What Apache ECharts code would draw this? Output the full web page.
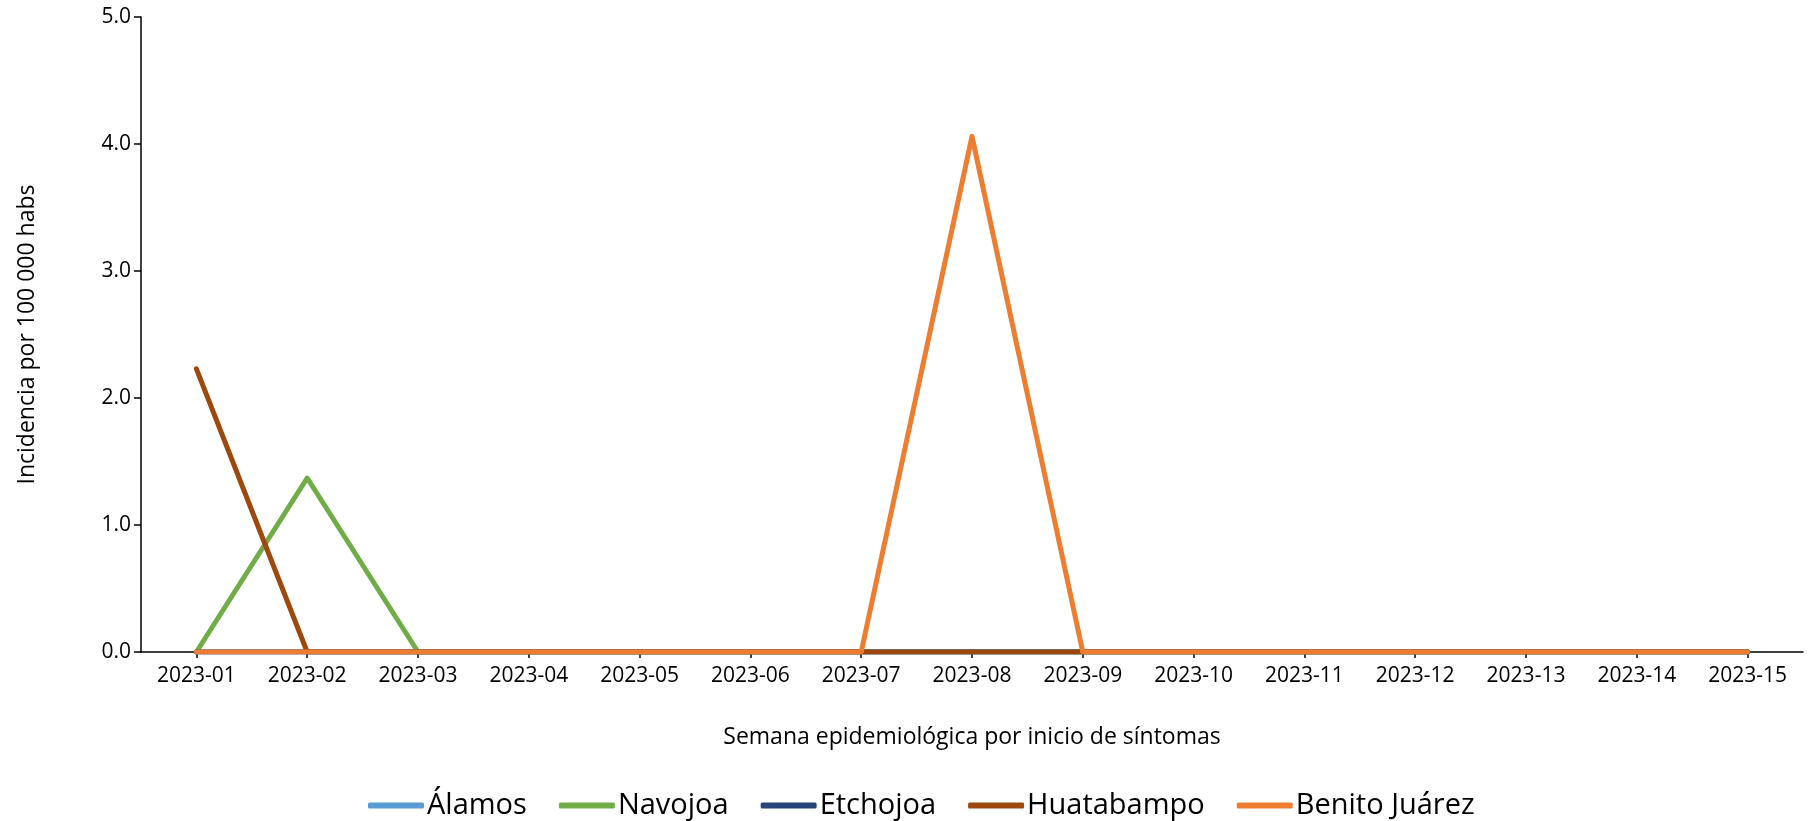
<!DOCTYPE html>
<html>
<head>
<meta charset="utf-8">
<script src="https://cdn.jsdelivr.net/npm/echarts@6/dist/echarts.min.js"></script>
<style>
html,body{margin:0;padding:0;background:#fff;}
#chart{width:1817px;height:821px;}
</style>
</head>
<body>
<div id="chart"></div>
<script>
var categories = ['2023-01','2023-02','2023-03','2023-04','2023-05','2023-06','2023-07','2023-08','2023-09','2023-10','2023-11','2023-12','2023-13','2023-14','2023-15'];
var alamos      = [0,0,0,0,0,0,0,0,0,0,0,0,0,0,0];
var navojoa     = [0,1.37,0,0,0,0,0,0,0,0,0,0,0,0,0];
var etchojoa    = [0,0,0,0,0,0,0,0,0,0,0,0,0,0,0];
var huatabampo  = [2.23,0,0,0,0,0,0,0,0,0,0,0,0,0,0];
var benitoJuarez= [0,0,0,0,0,0,0,4.06,0,0,0,0,0,0,0];
var yTicks = [0,1,2,3,4,5];

var seriesDefs = [
  {name:'Álamos', data:alamos, color:'#5B9BD5'},
  {name:'Navojoa', data:navojoa, color:'#70AD47'},
  {name:'Etchojoa', data:etchojoa, color:'#264478'},
  {name:'Huatabampo', data:huatabampo, color:'#9E480E'},
  {name:'Benito Juárez', data:benitoJuarez, color:'#ED7D31'}
];

var font = "'Open Sans', 'Noto Sans', sans-serif";
var chart = echarts.init(document.getElementById('chart'), null, {renderer:'canvas'});
chart.setOption({
  animation:false,
  backgroundColor:'#fff',
  textStyle:{fontFamily:font, color:'#000'},
  grid:{left:141, right:14, top:17, bottom:169, containLabel:false},
  legend:{
    top:786,
    left:363,
    icon:'roundRect',
    itemWidth:56,
    itemHeight:6,
    itemGap:32,
    textStyle:{fontFamily:font, fontSize:29, color:'#000', padding:[0,0,0,-2]},
    data:seriesDefs.map(function(s){return {name:s.name, icon:'roundRect'};})
  },
  xAxis:{
    type:'category',
    data:categories,
    boundaryGap:true,
    name:'Semana epidemiológica por inicio de síntomas',
    nameLocation:'middle',
    nameGap:74,
    nameTextStyle:{fontFamily:font, fontSize:23, color:'#000'},
    axisLine:{lineStyle:{color:'#000', width:1.5}},
    axisTick:{show:true, alignWithLabel:true, length:6, lineStyle:{color:'#000', width:1.5}},
    axisLabel:{fontFamily:font, fontSize:21, color:'#000', margin:14, interval:0},
    splitLine:{show:false}
  },
  yAxis:{
    type:'value',
    min:yTicks[0],
    max:yTicks[yTicks.length-1],
    interval:1,
    name:'Incidencia por 100 000 habs',
    nameLocation:'middle',
    nameGap:102,
    nameRotate:90,
    nameTextStyle:{fontFamily:font, fontSize:23, color:'#000'},
    axisLine:{show:true, lineStyle:{color:'#000', width:1.5}},
    axisTick:{show:true, length:7, lineStyle:{color:'#000', width:1.5}},
    axisLabel:{fontFamily:font, fontSize:21, color:'#000', margin:10,
      formatter:function(v){return v.toFixed(1);}},
    splitLine:{show:false}
  },
  series:seriesDefs.map(function(s){
    return {
      name:s.name,
      type:'line',
      data:s.data,
      symbol:'none',
      color:s.color,
      lineStyle:{color:s.color, width:5, cap:'round', join:'round'},
      itemStyle:{color:s.color}
    };
  })
});
</script>
</body>
</html>
